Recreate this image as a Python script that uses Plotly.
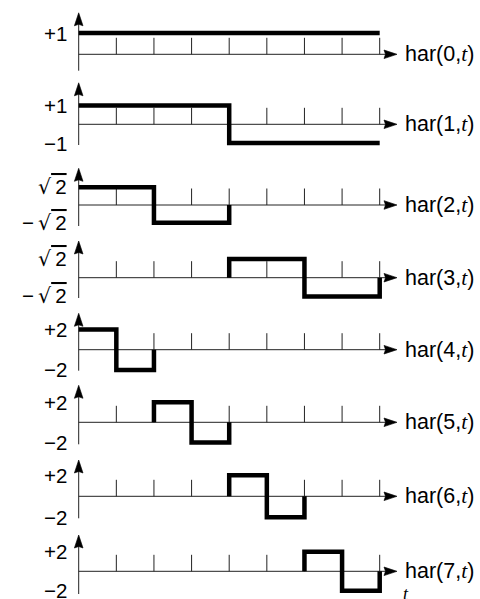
import plotly.graph_objects as go

# ---------------- data ----------------
SQRT2 = 2 ** 0.5
T_EDGES = [0, 1/8, 2/8, 3/8, 4/8, 5/8, 6/8, 7/8, 1]
HAR0 = [1, 1, 1, 1, 1, 1, 1, 1]
HAR1 = [1, 1, 1, 1, -1, -1, -1, -1]
HAR2 = [SQRT2, SQRT2, -SQRT2, -SQRT2, 0, 0, 0, 0]
HAR3 = [0, 0, 0, 0, SQRT2, SQRT2, -SQRT2, -SQRT2]
HAR4 = [2, -2, 0, 0, 0, 0, 0, 0]
HAR5 = [0, 0, 2, -2, 0, 0, 0, 0]
HAR6 = [0, 0, 0, 0, 2, -2, 0, 0]
HAR7 = [0, 0, 0, 0, 0, 0, 2, -2]
SERIES = [HAR0, HAR1, HAR2, HAR3, HAR4, HAR5, HAR6, HAR7]
AMPLITUDES = [1, 1, SQRT2, SQRT2, 2, 2, 2, 2]
ROOT2 = ("<span style=\"font-family:'DejaVu Sans'\">√</span>"
         "<span style=\"text-decoration:overline\">\u20092</span>")
PLUS_LABELS = ["+1", "+1", ROOT2, ROOT2, "+2", "+2", "+2", "+2"]
MINUS_LABELS = [None, "−1", "−\u2009" + ROOT2, "−\u2009" + ROOT2, "−2", "−2", "−2", "−2"]
TICKS = [1/8, 2/8, 3/8, 4/8, 5/8, 6/8, 7/8, 1]

# ---------------- layout geometry (pixels) ----------------
W, H = 480, 599
X0_PX = 78.7
UNIT_PX = 301.0
XTIP_PX = 397.0
BASE_PX = [54.3, 124.3, 205.0, 277.7, 349.7, 422.3, 496.3, 571.3]
AMP_PX = [21.3, 18.7, 17.8, 18.7, 20.2, 20.1, 21.0, 19.5]
UP_PX = [41.5, 41.5, 36.7, 36.7, 36.4, 37.0, 36.3, 36.3]
DOWN_PX = [16.4, 20.7, 21.0, 20.3, 21.0, 22.0, 22.0, 22.7]
TICK_H = 16.5
ARROW_L, ARROW_W, ARROW_N = 13, 4.3, 11.5

FONT = "Liberation Sans, Arial, sans-serif"
FS_R = 21.5
FS_L = 20.5
T_SPAN = "<span style=\"font-family:'Liberation Serif',serif;font-style:italic\">t</span>"

fig = go.Figure()
shapes = []
annotations = []
t_tip = (XTIP_PX - X0_PX) / UNIT_PX

for i, vals in enumerate(SERIES):
    yname = "y" if i == 0 else f"y{i+1}"
    nz = [k for k, v in enumerate(vals) if v != 0]
    first, last = nz[0], nz[-1]
    has_zero = any(v == 0 for v in vals)
    xs, ys = [], []
    if has_zero and first > 0:
        xs.append(T_EDGES[first]); ys.append(0)
    for k in range(first, last + 1):
        xs += [T_EDGES[k], T_EDGES[k + 1]]
        ys += [vals[k], vals[k]]
    if has_zero:
        xs.append(T_EDGES[last + 1]); ys.append(0)
    fig.add_trace(go.Scatter(x=xs, y=ys, mode="lines", yaxis=yname,
                             line=dict(color="black", width=4.5),
                             hoverinfo="skip", showlegend=False))

    common = dict(type="line", xref="x", yref=yname, ysizemode="pixel",
                  yanchor=0, line=dict(color="#222", width=1), layer="below")
    shapes.append(dict(common, x0=0, x1=t_tip - 8 / UNIT_PX, y0=0, y1=0))
    for t in TICKS:
        shapes.append(dict(common, x0=t, x1=t, y0=0, y1=TICK_H))
    shapes.append(dict(common, x0=0, x1=0, y0=-DOWN_PX[i], y1=UP_PX[i] - 8))
    shapes.append(dict(type="path", xref="x", yref=yname, xsizemode="pixel",
                       ysizemode="pixel", xanchor=t_tip, yanchor=0,
                       path=f"M0,0 L{-ARROW_L},{ARROW_W} L{-ARROW_N},0 L{-ARROW_L},{-ARROW_W} Z",
                       fillcolor="black", line=dict(color="black", width=0.6)))
    u = UP_PX[i]
    shapes.append(dict(type="path", xref="x", yref=yname, xsizemode="pixel",
                       ysizemode="pixel", xanchor=0, yanchor=0,
                       path=f"M0,{u} L{-ARROW_W},{u-ARROW_L} L0,{u-ARROW_N} L{ARROW_W},{u-ARROW_L} Z",
                       fillcolor="black", line=dict(color="black", width=0.6)))

    annotations.append(dict(x=t_tip, y=0, xref="x", yref=yname, xanchor="left",
                            yanchor="middle", xshift=6, showarrow=False,
                            text=f"har({i},{T_SPAN})",
                            font=dict(family=FONT, size=FS_R, color="black")))
    A = AMPLITUDES[i]
    annotations.append(dict(x=0, y=A, xref="x", yref=yname, xanchor="right",
                            yanchor="middle", xshift=-10, showarrow=False,
                            text=PLUS_LABELS[i],
                            font=dict(family=FONT, size=FS_L, color="black")))
    if MINUS_LABELS[i]:
        annotations.append(dict(x=0, y=-A, xref="x", yref=yname, xanchor="right",
                                yanchor="middle", xshift=-10, showarrow=False,
                                text=MINUS_LABELS[i],
                                font=dict(family=FONT, size=FS_L, color="black")))

    s = AMP_PX[i] / A
    b = BASE_PX[i]
    ax = dict(domain=[0, 1], range=[(b - H) / s, b / s], visible=False,
              fixedrange=True)
    if i == 0:
        fig.update_layout(yaxis=ax)
    else:
        ax["overlaying"] = "y"
        fig.update_layout(**{f"yaxis{i+1}": ax})

annotations.append(dict(x=401 / W, y=1 - 594 / H, xref="paper", yref="paper",
                        xanchor="left", yanchor="middle", showarrow=False,
                        text="<i>t</i>",
                        font=dict(family="Liberation Serif, serif", size=18, color="black")))

fig.update_layout(
    width=W, height=H, margin=dict(l=0, r=0, t=0, b=0),
    paper_bgcolor="white", plot_bgcolor="white", showlegend=False,
    xaxis=dict(domain=[0, 1], range=[-X0_PX / UNIT_PX, (W - X0_PX) / UNIT_PX],
               visible=False, fixedrange=True),
    shapes=shapes, annotations=annotations,
)

fig.write_html("out.html", config={"displayModeBar": False},
               post_script="document.body.style.margin='0';document.body.style.overflow='hidden';")
